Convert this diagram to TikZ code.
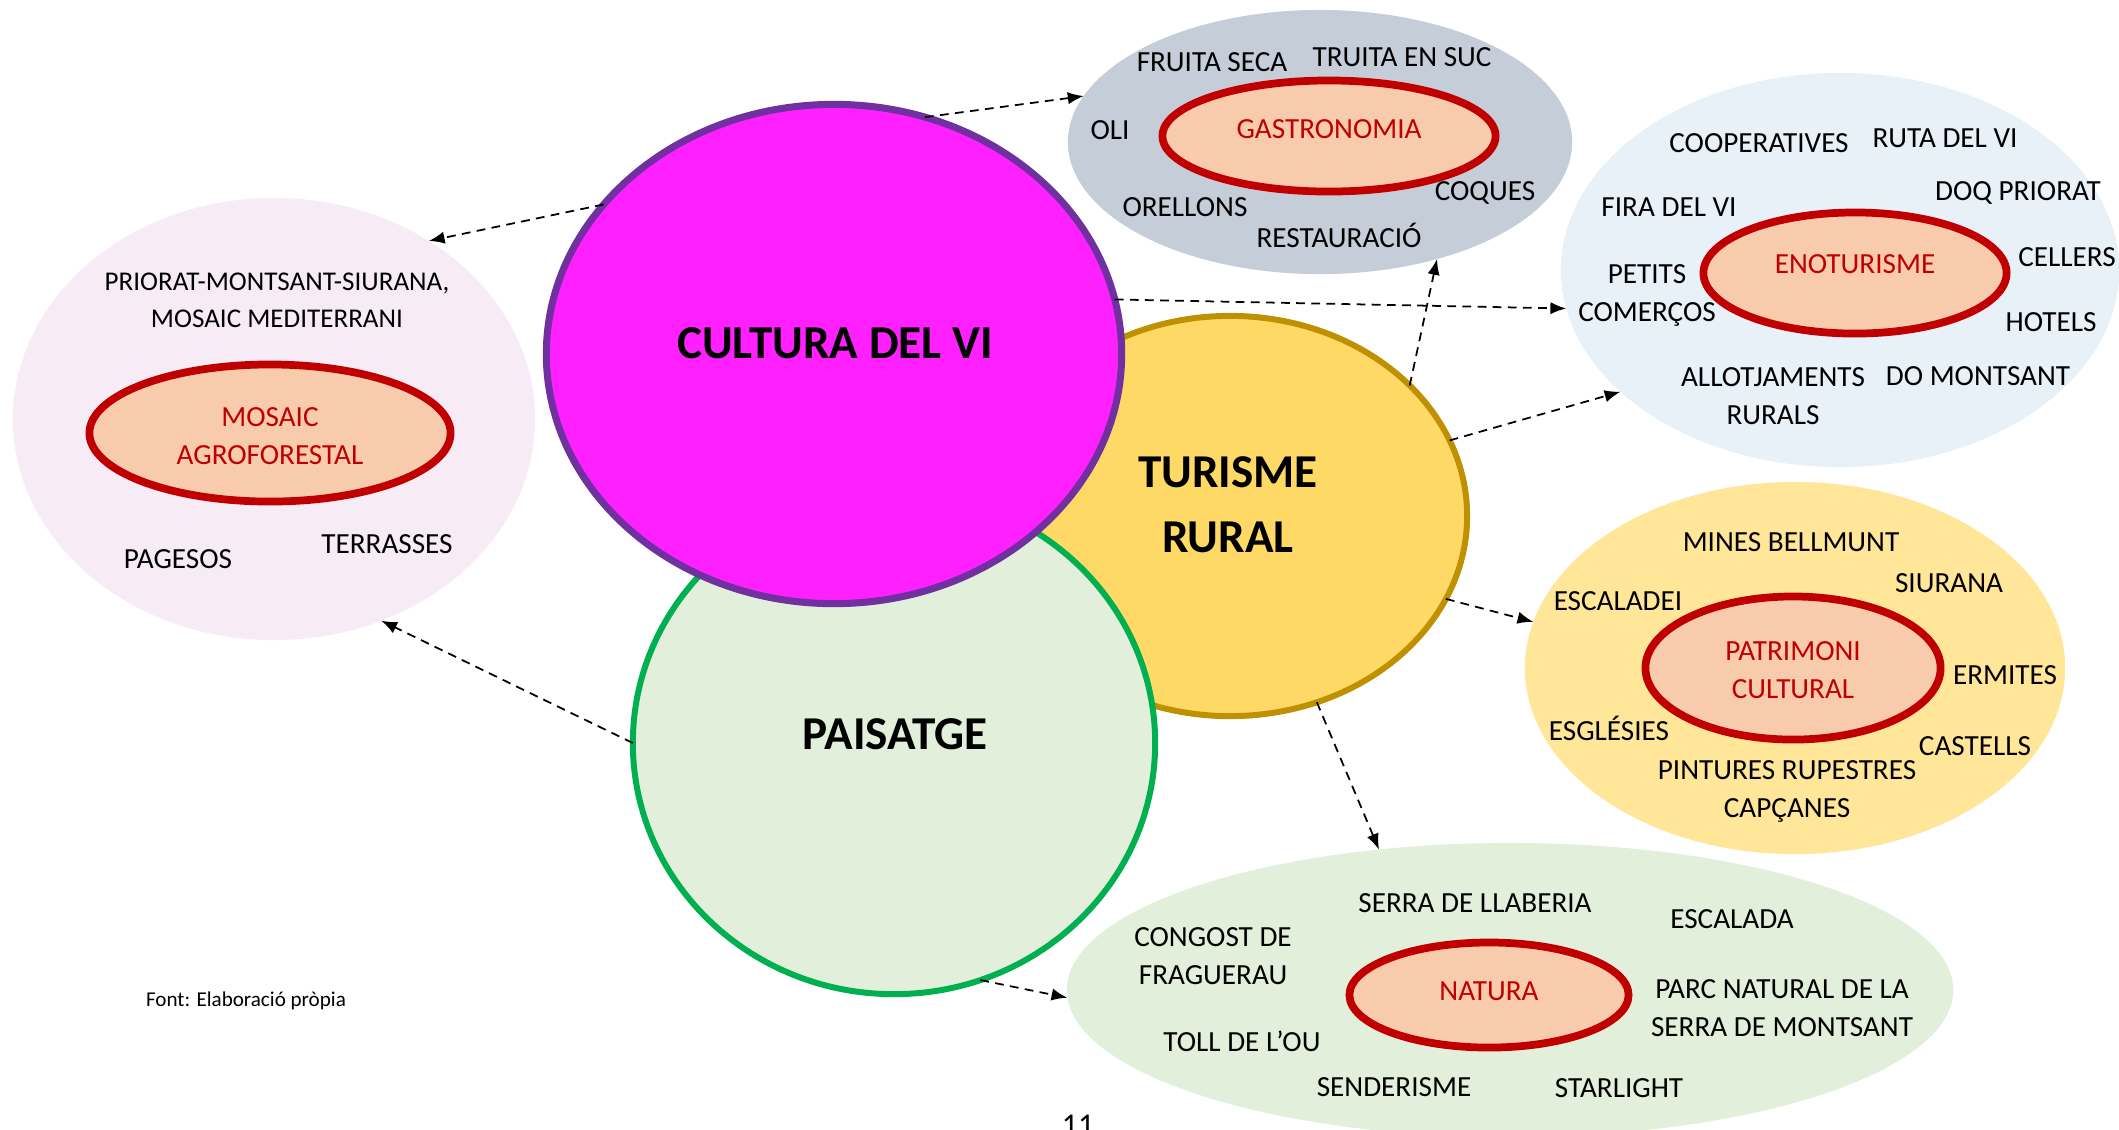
\documentclass[tikz,border=0pt]{standalone}
\usepackage{fontspec}
\setmainfont{Carlito}
\usetikzlibrary{shapes.geometric,arrows.meta}
\definecolor{redc}{RGB}{192,0,0}
\definecolor{peach}{RGB}{248,203,173}
\definecolor{gastrobg}{RGB}{196,205,216}
\definecolor{enobg}{RGB}{232,240,248}
\definecolor{mosbg}{RGB}{247,236,245}
\definecolor{patbg}{RGB}{255,230,153}
\definecolor{natbg}{RGB}{226,239,218}
\definecolor{magentaf}{RGB}{255,32,255}
\definecolor{purplec}{RGB}{112,48,160}
\definecolor{goldf}{RGB}{255,217,102}
\definecolor{goldc}{RGB}{191,144,0}
\definecolor{greenc}{RGB}{0,176,80}
\tikzset{
  outerell/.style={ellipse, inner sep=0pt, outer sep=0pt},
  core/.style={ellipse, draw=redc, line width=2.2pt, fill=peach, inner sep=0pt, outer sep=0pt},
  coretxt/.style={text=redc, font=\fontsize{8.3}{10.8}\selectfont, align=center, inner sep=0pt},
  mainell/.style={ellipse, inner sep=0pt, outer sep=0pt},
  lbl/.style={font=\fontsize{8.3}{10.8}\selectfont, align=center, inner sep=0pt},
  big/.style={font=\fontsize{13.4}{18.5}\selectfont\bfseries, align=center, inner sep=0pt},
  link/.style={line width=0.5pt, dash pattern=on 2.5pt off 1.8pt, -{Latex[length=4.5pt,width=3.5pt]}}
}
\begin{document}
\begin{tikzpicture}[x=0.01cm,y=-0.01cm]
\useasboundingbox (0,0) rectangle (2119,1129);
% outer topic ellipses
\node[outerell, fill=gastrobg, minimum width=5.04cm, minimum height=2.64cm] (gastro) at (1320,142) {};
\node[outerell, fill=enobg, minimum width=5.58cm, minimum height=3.94cm] (eno) at (1840,270) {};
\node[outerell, fill=mosbg, minimum width=5.22cm, minimum height=4.42cm] (mosaic) at (274,419) {};
\node[outerell, fill=patbg, minimum width=5.40cm, minimum height=3.72cm] (patri) at (1795,668) {};
\node[outerell, fill=natbg, minimum width=8.86cm, minimum height=2.94cm] (natura) at (1510,990) {};
% core ellipses
\node[core, minimum width=3.33cm, minimum height=1.11cm] (gastroC) at (1329,136) {};
\node[core, minimum width=3.03cm, minimum height=1.21cm] (enoC) at (1855,273) {};
\node[core, minimum width=3.61cm, minimum height=1.37cm] (mosaicC) at (270,433) {};
\node[core, minimum width=2.95cm, minimum height=1.43cm] (patriC) at (1793,668) {};
\node[core, minimum width=2.79cm, minimum height=1.05cm] (naturaC) at (1489,995) {};
\node[coretxt] (gastroT) at (1329,129) {GASTRONOMIA};
\node[coretxt] (enoT) at (1855,264) {ENOTURISME};
\node[coretxt] (mosaicT) at (270,436) {MOSAIC\\AGROFORESTAL};
\node[coretxt] (patriT) at (1793,670) {PATRIMONI\\CULTURAL};
\node[coretxt] (naturaT) at (1489,991) {NATURA};
% main ellipses
\node[mainell, draw=goldc, line width=1.7pt, fill=goldf, minimum width=4.74cm, minimum height=4.00cm] (turisme) at (1230,516) {};
\node[mainell, draw=greenc, line width=1.7pt, fill=natbg, minimum width=5.22cm, minimum height=5.02cm] (paisatge) at (894,743) {};
\node[mainell, draw=purplec, line width=2pt, fill=magentaf, minimum width=5.75cm, minimum height=4.99cm] (cultura) at (834,354) {};
\node[big] (tCult) at (835,343) {CULTURA DEL VI};
\node[big] (tTur) at (1228,505) {TURISME\\RURAL};
\node[big] (tPais) at (895,734) {PAISATGE};
% gastronomia labels
\node[lbl] (g1) at (1212,62) {FRUITA SECA};
\node[lbl] (g2) at (1402,57) {TRUITA EN SUC};
\node[lbl] (g3) at (1110,130) {OLI};
\node[lbl] (g4) at (1485,193) {COQUES};
\node[lbl] (g5) at (1185,207) {ORELLONS};
\node[lbl] (g6) at (1339,235) {RESTAURACIÓ};
% enoturisme labels
\node[lbl] (e1) at (1759,143) {COOPERATIVES};
\node[lbl] (e2) at (1945,138) {RUTA DEL VI};
\node[lbl] (e3) at (2018,193) {DOQ PRIORAT};
\node[lbl] (e4) at (1669,207) {FIRA DEL VI};
\node[lbl] (e5) at (2067,257) {CELLERS};
\node[lbl] (e6) at (1647,295) {PETITS\\COMERÇOS};
\node[lbl] (e7) at (2051,322) {HOTELS};
\node[lbl] (e8) at (1773,396) {ALLOTJAMENTS\\RURALS};
\node[lbl] (e9) at (1978,376) {DO MONTSANT};
% mosaic labels
\node[lbl, font=\fontsize{7.7}{10.6}\selectfont] (m1) at (277,300) {PRIORAT-MONTSANT-SIURANA,\\MOSAIC MEDITERRANI};
\node[lbl] (m2) at (178,559) {PAGESOS};
\node[lbl] (m3) at (387,544) {TERRASSES};
% patrimoni labels
\node[lbl] (p1) at (1791,542) {MINES BELLMUNT};
\node[lbl] (p2) at (1949,583) {SIURANA};
\node[lbl] (p3) at (1618,601) {ESCALADEI};
\node[lbl] (p4) at (2005,675) {ERMITES};
\node[lbl] (p5) at (1609,728) {ESGLÉSIES};
\node[lbl] (p6) at (1975,746) {CASTELLS};
\node[lbl] (p7) at (1787,791) {PINTURES RUPESTRES\\CAPÇANES};
% natura labels
\node[lbl] (n1) at (1475,903) {SERRA DE LLABERIA};
\node[lbl] (n2) at (1732,919) {ESCALADA};
\node[lbl] (n3) at (1213,956) {CONGOST DE\\FRAGUERAU};
\node[lbl] (n4) at (1782,1008) {PARC NATURAL DE LA\\SERRA DE MONTSANT};
\node[lbl] (n5) at (1242,1041) {TOLL DE L’OU};
\node[lbl] (n6) at (1394,1087) {SENDERISME};
\node[lbl] (n7) at (1619,1088) {STARLIGHT};
% footnote and page number
\node[font=\fontsize{6}{7}\selectfont, inner sep=0pt] (font) at (246,1001) {Font: Elaboració pròpia};
\node[font=\fontsize{9}{10}\selectfont, inner sep=0pt, anchor=north] (pagenum) at (1078,1114) {11};
% connectors
\draw[link] (cultura.69) -- (gastro.169);
\draw[link] (cultura.147) -- (mosaic.49);
\draw[link] (cultura.11) -- (eno.188);
\draw[link] (turisme.36) -- (gastro.-45);
\draw[link] (turisme.19) -- (eno.209);
\draw[link] (turisme.-21) -- (patri.170);
\draw[link] (turisme.-65) -- (natura.133);
\draw[link] (paisatge.180) -- (mosaic.-62);
\draw[link] (paisatge.-70) -- (natura.181);
\end{tikzpicture}
\end{document}
